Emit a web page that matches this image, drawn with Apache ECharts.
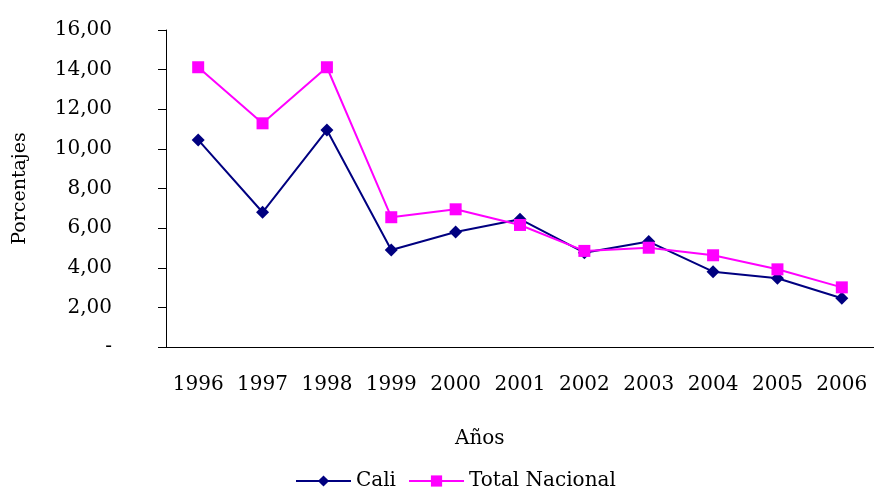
<!DOCTYPE html>
<html>
<head>
<meta charset="utf-8">
<script src="https://cdn.jsdelivr.net/npm/echarts@6/dist/echarts.min.js"></script>
<style>
    html, body {margin: 0; padding: 0; background: #fff;}
    #chart {width: 874px; height: 489px;}
</style>
</head>
<body>
<div id="chart"></div>
<script>
const years = ['1996', '1997', '1998', '1999', '2000', '2001', '2002', '2003', '2004', '2005', '2006'];
const cali = [10.45, 6.80, 10.95, 4.90, 5.80, 6.45, 4.76, 5.32, 3.80, 3.47, 2.46];
const totalNacional = [14.12, 11.29, 14.12, 6.55, 6.95, 6.16, 4.85, 5.01, 4.63, 3.92, 3.01];

const font = 'DejaVu Serif';

const myChart = echarts.init(document.getElementById('chart'));
myChart.setOption({
    animation: false,
    textStyle: {fontFamily: font, color: '#000'},
    grid: {left: 166, top: 30, width: 711, height: 317, containLabel: false},
    legend: {
        top: 466,
        left: 290,
        itemWidth: 55,
        itemHeight: 14,
        itemGap: 12,
        textStyle: {fontFamily: font, fontSize: 20, color: '#000'},
        data: ['Cali', 'Total Nacional']
    },
    graphic: [{
        type: 'text',
        left: 455,
        top: 429,
        style: {text: 'Años', font: '20px "DejaVu Serif"', fill: '#000'}
    }],
    xAxis: {
        type: 'category',
        data: years,
        axisLine: {lineStyle: {color: '#000', width: 1}},
        axisTick: {length: 8, lineStyle: {color: '#000'}},
        axisLabel: {interval: 0, margin: 28, fontSize: 20, color: '#000', fontFamily: font},
        splitLine: {show: false}
    },
    yAxis: {
        type: 'value',
        min: 0,
        max: 16,
        interval: 2,
        name: 'Porcentajes',
        nameLocation: 'middle',
        nameGap: 136,
        nameTextStyle: {fontSize: 19, color: '#000', fontFamily: font},
        axisLine: {show: true, lineStyle: {color: '#000', width: 1}},
        axisTick: {show: true, length: 8, lineStyle: {color: '#000'}},
        axisLabel: {
            margin: 54,
            fontSize: 20,
            color: '#000',
            fontFamily: font,
            formatter: v => v === 0 ? '-' : v.toFixed(2).replace('.', ',')
        },
        splitLine: {show: false}
    },
    series: [{
        name: 'Cali',
        type: 'line',
        data: cali,
        symbol: 'diamond',
        symbolSize: 13,
        itemStyle: {color: '#000080'},
        lineStyle: {color: '#000080', width: 2}
    }, {
        name: 'Total Nacional',
        type: 'line',
        data: totalNacional,
        symbol: 'rect',
        symbolSize: 12,
        itemStyle: {color: '#ff00ff'},
        lineStyle: {color: '#ff00ff', width: 2}
    }]
});
</script>
</body>
</html>
